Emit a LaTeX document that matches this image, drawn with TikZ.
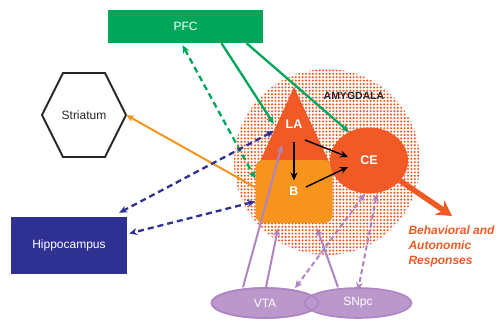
\documentclass[tikz,border=0pt]{standalone}
\usepackage{fontspec}
\setmainfont{Liberation Sans}
\usetikzlibrary{shapes.geometric,patterns.meta,arrows.meta}

\definecolor{pfcgreen}{RGB}{0,166,90}
\definecolor{hipblue}{RGB}{46,49,146}
\definecolor{amyred}{RGB}{241,90,36}
\definecolor{basorange}{RGB}{247,148,29}
\definecolor{dopafill}{RGB}{187,152,204}
\definecolor{dopaline}{RGB}{176,132,196}

\begin{document}
\begin{tikzpicture}[x=1pt, y=-1pt, >={Stealth[length=8pt, width=7pt]},
    every node/.style={font=\fontsize{12}{15}\selectfont},
    region/.style={text=white, inner sep=0pt},
    nucleus/.style={region, font=\fontsize{12.5}{15}\selectfont\bfseries},
    dopa/.style={ellipse, draw=dopaline, line width=1.6pt, text=white, inner sep=0pt,
      minimum width=107pt, minimum height=30pt},
    greenline/.style={pfcgreen, line width=2.3pt},
    blueline/.style={hipblue, line width=2.3pt, dash pattern=on 6pt off 4pt},
    purpleline/.style={dopaline, line width=2pt},
    innerline/.style={black, line width=1.4pt}]
    \useasboundingbox (0,0) rectangle (499,322);

    % Amygdala and its nuclei
    \node[circle, minimum size=186pt, inner sep=0pt,
      pattern={Dots[distance=3.4pt, radius=1.15pt]}, pattern color=amyred] (amy) at (327,162) {};
    \node[font=\fontsize{10.5}{12}\selectfont\bfseries, text=black!85] (amylabel) at (354,96) {AMYGDALA};

    \fill[amyred] (294,87) -- (332,168) -- (257,168) -- cycle;
    \node[nucleus, minimum size=40pt] (la) at (294,124) {LA};
    \node[nucleus, fill=basorange, rounded corners=8pt, minimum width=77pt, minimum height=63pt] (b) at (294,191.5) {B};
    \node[nucleus, ellipse, fill=amyred, minimum width=78pt, minimum height=66pt] (ce) at (369,160.5) {CE};

    % Output
    \coordinate (out) at (452,216);
    \draw[amyred, line width=5.5pt, -{Stealth[length=15pt, width=17pt]}] (ce.-33) -- (out);
    \node[anchor=west, align=left, text=amyred, font=\fontsize{12}{15}\selectfont\bfseries\itshape] (resp) at (405,246)
      {Behavioral and\\Autonomic\\Responses};

    % Other regions
    \node[region, fill=pfcgreen, minimum width=155pt, minimum height=33pt] (pfc) at (185.5,26.5) {PFC};
    \node[region, fill=hipblue, minimum width=116pt, minimum height=57pt] (hippo) at (69,245.5) {Hippocampus};
    \draw[line width=1.9pt, black!85] (42,115) -- (63,73) -- (105,73) -- (126,115) -- (105,157) -- (63,157) -- cycle;
    \node[minimum width=84pt, inner sep=0pt, text=black!85] (striatum) at (84,115) {Striatum};
    \node[dopa, fill=dopafill] (vta) at (265,303) {};
    \node[dopa, fill=dopafill] (snpc) at (358,303) {};
    \draw[dopaline, line width=1.6pt] (vta.center) ellipse (53.5pt and 15pt);
    \node[region] at (vta) {VTA};
    \node[region] at (snpc) {SNpc};

    % PFC projections
    \draw[greenline, ->] ([xshift=36pt]pfc.south) -- (la.west);
    \draw[greenline, ->] ([xshift=61pt]pfc.south) -- (ce.125);
    \draw[greenline, <->, dash pattern=on 6pt off 4pt] ([xshift=-3pt,yshift=-2pt]pfc.south) -- ([yshift=13pt]b.west);

    % Striatum and hippocampus
    \draw[basorange, line width=2pt, ->] ([yshift=4pt]b.west) -- (striatum.east);
    \draw[blueline, <->] ([yshift=-7pt]la.west) -- ([xshift=-8pt,yshift=4pt]hippo.north east);
    \draw[blueline, <->] ([yshift=-10pt]b.west) -- ([xshift=2pt,yshift=12pt]hippo.east);

    % Intra-amygdala
    \draw[innerline, ->] ([yshift=-18pt]la.center) -- ([yshift=11pt]b.center);
    \draw[innerline, ->] ([xshift=11pt,yshift=-16pt]la.center) -- ([xshift=-21pt,yshift=3.5pt]ce.center);
    \draw[innerline, ->] ([xshift=12pt,yshift=4.5pt]b.center) -- ([xshift=-21pt,yshift=-6.5pt]ce.center);

    % Dopamine inputs
    \draw[purpleline, ->] ([xshift=-22pt]vta.north) -- ([xshift=-12pt,yshift=-21pt]la.center);
    \draw[purpleline, ->] ([xshift=1pt]vta.north) -- ([xshift=-16pt,yshift=-5pt]b.south);
    \draw[purpleline, ->] ([xshift=-20pt]snpc.north) -- ([xshift=23pt,yshift=-5pt]b.south);
    \draw[purpleline, <->, dash pattern=on 5pt off 3pt] ([xshift=-4pt]ce.south) -- ([xshift=30pt,yshift=-1pt]vta.north);
    \draw[purpleline, <->, dash pattern=on 5pt off 3pt] ([xshift=8pt]ce.south) -- ([yshift=-3pt]snpc.north);
\end{tikzpicture}
\end{document}
